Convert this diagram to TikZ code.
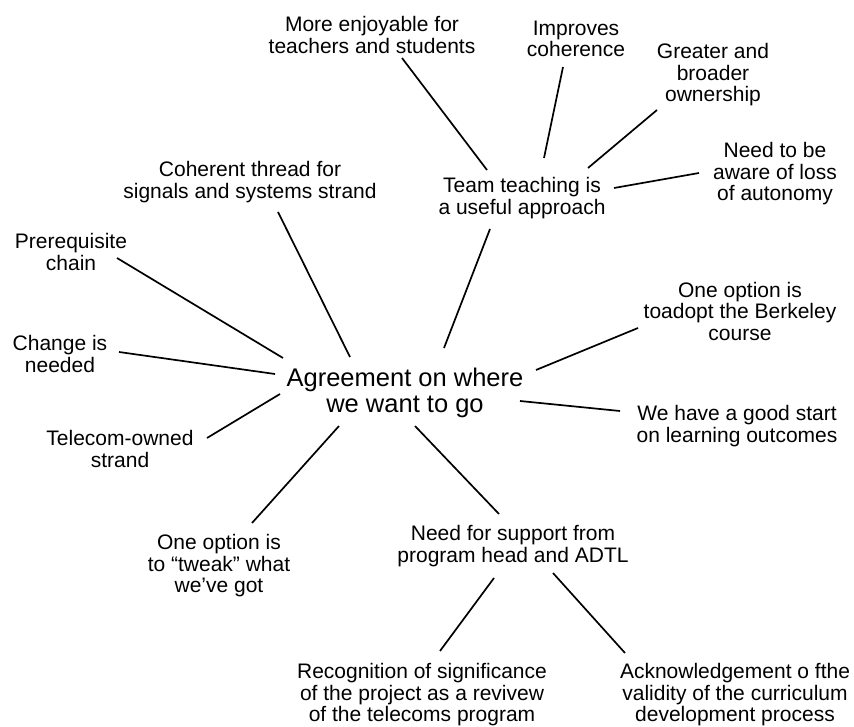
\documentclass[tikz,border=0pt]{standalone}
\usepackage{fontspec}
\setmainfont{Liberation Sans}
\usetikzlibrary{calc}
\begin{document}
\begin{tikzpicture}[x=1pt,y=-1pt,
  idea/.style={align=center,inner sep=0pt,font=\fontsize{21}{21.5}\selectfont},
  central/.style={align=center,inner sep=0pt,font=\fontsize{25.5}{26.5}\selectfont},
  link/.style={draw=black,line width=1.7pt}]
\useasboundingbox[fill=white] (0,0) rectangle (854,727);

% central idea
\node[central] (hub) at (405,393) {Agreement on where\\we want to go};

% team teaching cluster
\node[idea] (tt)      at (522,198) {Team teaching is\\a useful approach};
\node[idea] (more)    at (372,35)  {More enjoyable for\\teachers and students};
\node[idea] (impr)    at (576,39)  {Improves\\coherence};
\node[idea] (greater) at (713,75)  {Greater and\\broader\\ownership};
\node[idea] (aware)   at (775,174) {Need to be\\aware of loss\\of autonomy};

% left side
\node[idea] (coh)     at (250,182) {Coherent thread for\\signals and systems strand};
\node[idea] (prereq)  at (71,252)  {Prerequisite\\chain};
\node[idea] (change)  at (60,354)  {Change is\\needed};
\node[idea] (telecom) at (120,449) {Telecom-owned\\strand};
\node[idea] (tweak)   at (219,566) {One option is\\to “tweak” what\\we’ve got};

% right side
\node[idea] (berk)    at (740,311) {One option is\\toadopt the Berkeley\\course};
\node[idea] (good)    at (737,426) {We have a good start\\on learning outcomes};

% support cluster
\node[idea] (support) at (513,546) {Need for support from\\program head and ADTL};
\node[idea] (recog)   at (422,695) {Recognition of significance\\of the project as a revivew\\of the telecoms program};
\node[idea] (ack)     at (735,695) {Acknowledgement o fthe\\validity of the curriculum\\development process};

% connectors
\path[link] ($(more)+(30,23)$)     -- ($(tt)+(-35,-28)$);
\path[link] ($(impr)+(-13,28)$)    -- ($(tt)+(22,-40)$);
\path[link] ($(greater)+(-56,35)$) -- ($(tt)+(66,-30)$);
\path[link] ($(aware)+(-76,-1)$)   -- ($(tt)+(92,-10)$);
\path[link] ($(tt)+(-32,31)$)      -- ($(hub)+(39,-45)$);
\path[link] ($(coh)+(28,30)$)      -- ($(hub)+(-55,-36)$);
\path[link] ($(prereq)+(46,6)$)    -- ($(hub)+(-122,-35)$);
\path[link] ($(change)+(59,-2)$)   -- ($(hub)+(-130,-19)$);
\path[link] ($(telecom)+(87,-11)$) -- ($(hub)+(-125,1)$);
\path[link] ($(hub)+(-66,33)$)     -- ($(tweak)+(33,-43)$);
\path[link] ($(hub)+(10,33)$)      -- ($(support)+(-14,-32)$);
\path[link] ($(hub)+(131,-23)$)    -- ($(berk)+(-102,17)$);
\path[link] ($(hub)+(115,8)$)      -- ($(good)+(-117,-15)$);
\path[link] ($(support)+(-19,32)$) -- ($(recog)+(18,-44)$);
\path[link] ($(support)+(40,27)$)  -- ($(ack)+(-110,-42)$);
\end{tikzpicture}
\end{document}
